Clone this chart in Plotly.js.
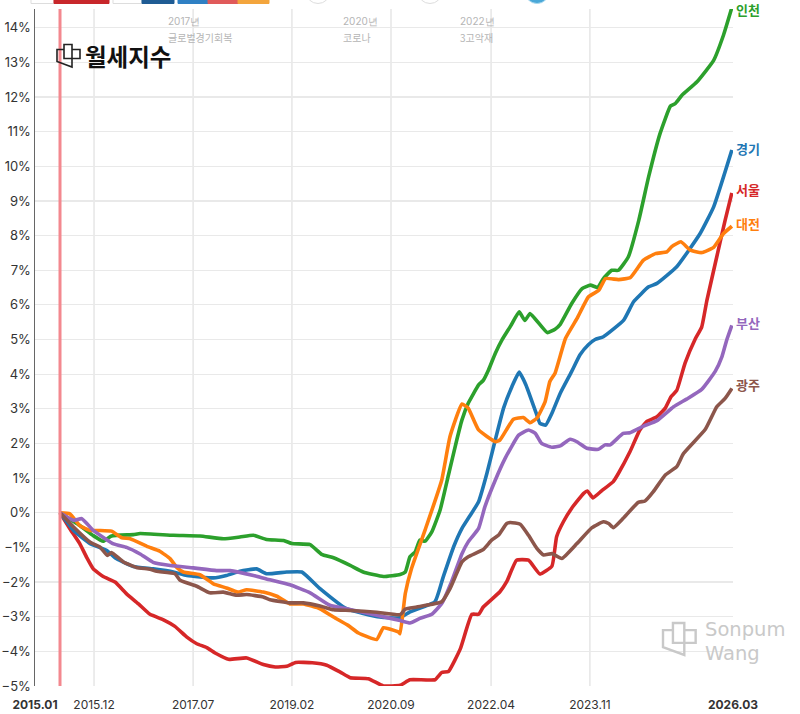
<!DOCTYPE html>
<html><head><meta charset="utf-8">
<script src="https://cdn.plot.ly/plotly-3.0.1.min.js"></script>
<style>html,body{margin:0;padding:0;background:#fff;overflow:hidden}#c{width:800px;height:714px}</style>
</head><body><div id="c"></div>
<script>
// Months counted from the start of the index lines; values in %
const seoulM=[0,1.9,3.8,5.1,6.4,8.3,10.6,12.8,15.1,17.3,19.9,22.1,24.4,26.3,28.2,30.1,32.4,35.9,39.1,41.4,43.6,45.3,48.5,51.3,53.9,55.8,59.3,62.2,65.4,67.3,72.1,73.4,74.7,77,79.2,80.5,81.4,84.6,85.9,87.8,90.1,92.3,94.6,95.5,96.8,98.4,100.7,101.4,102.5,104.2,106.4,107.4,109.6,111.5,112.8,114.8,116.4,117.5,118.6,120.2,122.2,123.4,124.4,126.3,127.9,129.2];
const seoulV=[0,-.46,-.89,-1.28,-1.62,-1.84,-2,-2.34,-2.63,-2.93,-3.09,-3.28,-3.59,-3.78,-3.89,-4.07,-4.23,-4.19,-4.38,-4.45,-4.43,-4.32,-4.33,-4.4,-4.6,-4.76,-4.79,-5,-4.98,-4.82,-4.82,-4.61,-4.58,-3.92,-2.93,-2.93,-2.72,-2.28,-1.99,-1.37,-1.37,-1.77,-1.54,-.69,-.26,.13,.56,.63,.43,.64,.9,1.14,1.76,2.39,2.63,2.77,3.02,3.35,3.53,4.32,5.03,5.36,6.13,7.39,8.44,9.23];
const incheonM=[0,3.8,6.4,8.3,9.9,14.1,15.4,21.8,26.9,31.4,34.6,37.2,39.7,43,44.6,48.1,50.3,52.6,55.8,58.3,62.2,65.4,66.4,67.3,68.3,69.2,70.2,71.5,73.1,74.7,76.3,77.3,78.5,80.5,81.4,82.4,83.7,85,86.7,88.3,89.4,90.4,93.7,95.2,96.2,98.4,100.4,102,103.4,104.5,106.1,107.4,109.3,111.3,113.2,115.4,117.4,118.3,119.6,122.5,125.7,127.6,129.2];
const incheonV=[0,-.37,-.66,-.82,-.67,-.63,-.6,-.65,-.67,-.75,-.7,-.65,-.77,-.8,-.89,-.92,-1.2,-1.3,-1.52,-1.71,-1.84,-1.78,-1.71,-1.27,-1.13,-.79,-.82,-.55,.08,1.09,2.1,2.68,3.16,3.69,3.82,4.12,4.6,4.99,5.4,5.8,5.55,5.75,5.2,5.3,5.44,6.04,6.47,6.57,6.5,6.76,7,7,7.39,8.44,9.7,10.95,11.74,11.81,12.05,12.44,13.06,13.79,14.58];
const gyeonggiM=[0,2.6,5.8,9,10.9,14.1,17.9,21.8,24.4,29.5,32,34.6,37.8,39.7,43.6,46.5,50,55.1,61.5,65.4,67.3,72.1,73.7,75.7,77.3,78.9,80.5,82.1,83.7,85.3,86.9,88.3,89.6,91.7,92.3,93.4,94.6,96.2,98.4,100,101.6,102.9,104.5,108.4,110.3,113.2,114.8,118.6,123.1,125.7,129.2];
const gyeonggiV=[0,-.51,-.89,-1.09,-1.33,-1.55,-1.62,-1.71,-1.81,-1.88,-1.81,-1.69,-1.62,-1.76,-1.71,-1.71,-2.19,-2.77,-3.01,-3.03,-2.86,-2.57,-1.85,-.98,-.45,-.07,.32,1.14,2.1,3.02,3.64,4.06,3.69,2.82,2.58,2.53,2.87,3.45,4.08,4.56,4.85,5,5.08,5.56,6.09,6.52,6.62,7.1,8.06,8.83,10.47];
const daejeonM=[0,1.9,3.8,5.8,7.7,9.9,11.9,13.5,16.7,19.2,21.2,22.4,23.7,26.9,29.5,32,34.2,35.9,39.1,41.7,44.2,46.8,50,52.6,55.4,57.4,60.9,62.2,65.1,65.4,66.4,67.6,70.2,73.4,75,77.3,78.5,80.5,83.7,84.6,87.2,89.1,90.4,91.7,93.3,94.2,95.2,97.2,99.4,101.6,103.6,104.9,107.4,109.7,112.2,114.5,116.7,117.7,119.4,121.2,123.4,125.7,127.6,129.2];
const daejeonV=[0,-.03,-.37,-.51,-.51,-.53,-.72,-.75,-.97,-1.11,-1.33,-1.57,-1.71,-1.79,-2.05,-2.17,-2.29,-2.22,-2.29,-2.41,-2.63,-2.63,-2.77,-3.01,-3.25,-3.47,-3.66,-3.32,-3.44,-3.49,-2.33,-1.61,-.5,.94,2.2,3.14,3.02,2.39,2.05,2.1,2.7,2.75,2.6,2.73,3.21,3.79,4.03,5.03,5.6,6.23,6.42,6.76,6.73,6.79,7.29,7.48,7.53,7.69,7.82,7.58,7.51,7.66,8.06,8.27];
const busanM=[0,2.6,4.2,6.4,10.3,12.8,15.4,17.9,21.2,25.6,30.1,32.7,37.2,39.7,44.2,48.1,51.9,55.1,60.9,65.4,67.3,69.2,71.5,73.4,75.3,77.3,78.5,80.5,81.7,83.7,85.6,88.2,90.1,91.4,92.6,94.6,96.2,98.1,99.4,101.3,103.5,104.8,105.8,108.3,109.6,112.2,114.8,118,120.5,123.4,126,127.3,128.2,129.2];
const busanV=[0,-.22,-.17,-.51,-.9,-1,-1.19,-1.43,-1.52,-1.59,-1.67,-1.67,-1.81,-1.91,-2.08,-2.31,-2.67,-2.77,-2.96,-3.11,-3.18,-3.05,-2.93,-2.62,-1.99,-1.18,-.84,-.45,.17,.94,1.57,2.24,2.39,2.29,2,1.89,1.93,2.12,2.05,1.86,1.83,1.96,1.96,2.29,2.31,2.5,2.66,3.06,3.28,3.56,4.08,4.51,4.98,5.41];
const gwangjuM=[0,2.6,5.8,7.7,9.1,9.9,12.2,14.7,17.3,18.6,22.1,23.1,26.3,28.8,31.4,34,35.9,39.1,40.4,44.2,46.8,50,52.6,55.8,60.9,65.4,66.4,68.6,73.4,75,77.3,78.5,81.4,83,84.3,85.9,86.6,88.5,90.1,91.7,93,94.6,96.5,99.4,102.3,104.5,105.5,106.4,108.3,111.2,112.5,114.1,116.4,118.6,119.9,124.1,126.3,127.9,129.2];
const gwangjuV=[0,-.41,-.85,-.99,-1.23,-1.15,-1.42,-1.58,-1.63,-1.69,-1.76,-1.95,-2.12,-2.31,-2.29,-2.38,-2.36,-2.43,-2.51,-2.6,-2.6,-2.69,-2.8,-2.82,-2.87,-2.94,-2.78,-2.72,-2.57,-2.19,-1.42,-1.27,-1.06,-.79,-.65,-.31,-.28,-.33,-.65,-1.03,-1.22,-1.18,-1.32,-.89,-.43,-.26,-.31,-.43,-.16,.3,.34,.61,1.09,1.33,1.71,2.41,3.06,3.3,3.59];

const seriesNames=['서울','인천','경기','대전','부산','광주'];
const seriesColors=['#d62728','#2ca02c','#1f77b4','#ff7f0e','#9467bd','#8c564b'];
const seriesM=[seoulM,incheonM,gyeonggiM,daejeonM,busanM,gwangjuM];
const seriesV=[seoulV,incheonV,gyeonggiV,daejeonV,busanV,gwangjuV];
const labelTop=[189.5,9.5,148.5,223.5,322.5,384.5];

const tickVals=[-4.81,6.54,25.6,44.6,63.65,82.9,101.9,129.42];
const tickText=['<b>2015.01</b>','2015.12','2017.07','2019.02','2020.09','2022.04','2023.11','<b>2026.03</b>'];
const gridMonths=tickVals.slice(1,7);
const yTicks=[-5,-4,-3,-2,-1,0,1,2,3,4,5,6,7,8,9,10,11,12,13,14];
const events=[[21.5,'2017년','글로벌경기회복'],[55.2,'2020년','코로나'],[77.7,'2022년','3고악재']];

const W=800,H=714,L=35,R=67,T=9,B=28;
const px=x=>(x-L)/(W-L-R), py=y=>(H-B-y)/(H-T-B);
const kr='"Noto Sans CJK KR","Noto Sans",sans-serif';
const pth=(pts)=>'M'+pts.map(p=>px(p[0])+','+py(p[1])).join(' L');
function logo(x0,y0,s,col,w){
  const a=[[7,5],[0,5],[0,17],[15,22.5],[15,0],[7,0],[7,14],[23,14],[23,5],[15,5]];
  return [{xref:'paper',yref:'paper',path:pth(a.map(p=>[x0+p[0]*s,y0+p[1]*s])),line:{color:col,width:w}}];
}
const rect=(x0,x1,c,lc)=>({type:'rect',xref:'paper',yref:'paper',x0:px(x0),x1:px(x1),y0:py(3.5),y1:py(-6),fillcolor:c,line:{color:lc||c,width:1}});
const circ=(cx,c,lc)=>({type:'circle',xref:'paper',yref:'paper',x0:px(cx-12),x1:px(cx+12),y0:py(3.5),y1:py(-20),fillcolor:c,line:{color:lc,width:1}});

const shapes=[
 {type:'line',xref:'x',yref:'paper',x0:0,x1:0,y0:0,y1:1,line:{color:'#f3888f',width:3}},
 rect(31,54,'#fff','#ddd'),rect(54,109,'#c8272b'),rect(113,142,'#fff','#ddd'),rect(142,174,'#1f5c94'),
 rect(178,208,'#2f80c4'),rect(208,238,'#e05a5a'),rect(238,269,'#f3a53d'),
 circ(318,'#fff','#ddd'),circ(430,'#fff','#ddd'),circ(537,'#4aa8d8','#a8d8ee'),
 ...logo(57,44.5,1,'#222',1.6),
 ...logo(663,623,1.42,'#c9c9c9',2.4)
];

const annotations=seriesNames.map((n,i)=>({xref:'paper',yref:'paper',x:px(734),y:py(labelTop[i]),text:'<b>'+n+'</b>',showarrow:false,xanchor:'left',yanchor:'middle',font:{family:kr,size:13,color:seriesColors[i]}}));
events.forEach(e=>{
 annotations.push({xref:'x',yref:'paper',x:e[0],y:py(21),text:e[1],showarrow:false,xanchor:'left',yanchor:'middle',xshift:-6,font:{family:'Inter,sans-serif',size:10,color:'#b5b5b5'}});
 annotations.push({xref:'x',yref:'paper',x:e[0],y:py(37),text:e[2],showarrow:false,xanchor:'left',yanchor:'middle',xshift:-6,font:{family:kr,size:10,color:'#b5b5b5'}});
});
annotations.push({xref:'paper',yref:'paper',x:px(83),y:py(56),text:'<b>월세지수</b>',showarrow:false,xanchor:'left',yanchor:'middle',font:{family:kr,size:23.5,color:'#111'}});
annotations.push({xref:'paper',yref:'paper',x:px(703),y:py(629),text:'Sonpum',showarrow:false,xanchor:'left',yanchor:'middle',font:{family:'"DejaVu Sans",sans-serif',size:19.5,color:'#c9c9c9'}});
annotations.push({xref:'paper',yref:'paper',x:px(703),y:py(653),text:'Wang',showarrow:false,xanchor:'left',yanchor:'middle',font:{family:'"DejaVu Sans",sans-serif',size:19.5,color:'#c9c9c9'}});

const traces=seriesNames.map((n,i)=>({type:'scatter',mode:'lines',name:n,x:seriesM[i],y:seriesV[i],line:{color:seriesColors[i],width:3.6,shape:'spline',smoothing:0.4},hoverinfo:'skip'}));

Plotly.newPlot('c',traces,{
 width:W,height:H,margin:{l:L,r:R,t:T,b:B,pad:0},showlegend:false,paper_bgcolor:'#fff',plot_bgcolor:'#fff',
 xaxis:{range:[-4.81,129.42],tickmode:'array',tickvals:tickVals,ticktext:tickText,showgrid:false,zeroline:false,showline:false,ticks:'outside',ticklen:8,tickcolor:'rgba(0,0,0,0)',
  tickfont:{family:'Inter,sans-serif',size:12,color:'#333'},tickangle:0,automargin:false},
 yaxis:{range:[-5,14.54],tickmode:'array',tickvals:yTicks,ticktext:yTicks.map(v=>(v<0?'−'+(-v):v)+'%'),showgrid:true,gridcolor:'#e9e9e9',gridwidth:1.2,zeroline:false,
  showline:true,linecolor:'#666',linewidth:1.5,ticks:'',tickfont:{family:'Inter,sans-serif',size:13,color:'#333'},automargin:false},
 shapes:[...gridMonths.map(m=>({type:'line',xref:'x',yref:'paper',layer:'below',x0:m,x1:m,y0:0,y1:1,line:{color:'#e6e6e6',width:1.5}})),...shapes],
 annotations
},{displayModeBar:false,staticPlot:true});
</script></body></html>
